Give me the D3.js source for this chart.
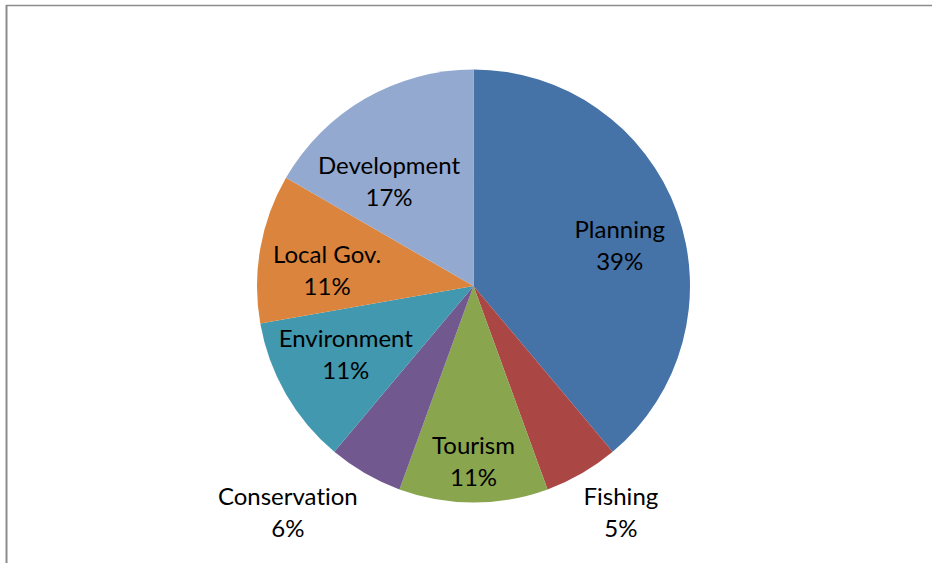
<!DOCTYPE html>
<html><head><meta charset="utf-8">
<script src="https://cdn.jsdelivr.net/npm/d3@7"></script>
<style>html,body{margin:0;padding:0;background:#fff;}svg{display:block;}</style>
</head><body>
<svg id="chart" width="932" height="563"></svg>
<script>
const categories = ["Planning", "Fishing", "Tourism", "Conservation", "Environment", "Local Gov.", "Development"];
const counts = [7, 1, 2, 1, 2, 2, 3];
const percentLabels = ["39%", "5%", "11%", "6%", "11%", "11%", "17%"];
const colors = ["#4572A7", "#AA4643", "#89A54E", "#71588F", "#4198AF", "#DB843D", "#93A9CF"];
// label placement (radius as fraction of pie radius, angular shift in degrees) — layout, not data
const labelRadius = [0.70, 1.25, 0.81, 1.354, 0.67, 0.68, 0.62];
const labelShift = [4.7, -3, 0, 9.3, 1.7, -4, -9];

const svg = d3.select("#chart");
svg.append("line").attr("x1", 6).attr("x2", 932).attr("y1", 5.5).attr("y2", 5.5).attr("stroke", "#8c8c8c").attr("stroke-width", 1.5);
svg.append("line").attr("x1", 6.5).attr("x2", 6.5).attr("y1", 5).attr("y2", 563).attr("stroke", "#8c8c8c").attr("stroke-width", 2);

const cx = 473.5, cy = 286, R = 216.5;
const g = svg.append("g").attr("transform", `translate(${cx},${cy})`);
const data = categories.map((c, i) => ({ name: c, value: counts[i], pct: percentLabels[i], color: colors[i], lr: labelRadius[i], ls: labelShift[i] }));
const pie = d3.pie().value(d => d.value).sort(null);
const arcs = pie(data);
const arc = d3.arc().innerRadius(0).outerRadius(R);

g.selectAll("path").data(arcs).join("path")
  .attr("d", arc).attr("fill", d => d.data.color);

const lbl = g.selectAll("text.lbl").data(arcs).join("text")
  .attr("class", "lbl")
  .attr("transform", d => {
    const a = (d.startAngle + d.endAngle) / 2 + d.data.ls * Math.PI / 180;
    const r = R * d.data.lr;
    return `translate(${r * Math.sin(a)},${-r * Math.cos(a)})`;
  })
  .attr("text-anchor", "middle")
  .style("font-family", "Lato, 'Open Sans', sans-serif")
  .style("font-size", "24px")
  .style("font-variant-ligatures", "none")
  .style("font-feature-settings", "'liga' 0, 'dlig' 0")
  .attr("fill", "#000");
lbl.append("tspan").attr("x", 0).attr("y", -16).attr("dy", "0.35em").text(d => d.data.name);
lbl.append("tspan").attr("x", 0).attr("y", 16).attr("dy", "0.35em").text(d => d.data.pct);
</script>
</body></html>
